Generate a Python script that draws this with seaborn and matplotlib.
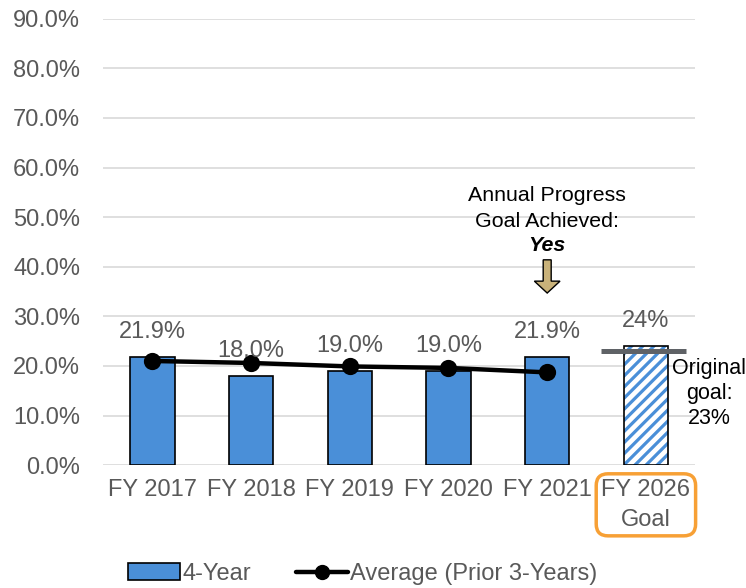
import matplotlib
matplotlib.use("Agg")
import matplotlib.pyplot as plt
import seaborn as sns
from matplotlib.patches import Patch, FancyArrow
from matplotlib.lines import Line2D
from matplotlib.ticker import FuncFormatter

years = ["FY 2017", "FY 2018", "FY 2019", "FY 2020", "FY 2021", "FY 2026\nGoal"]
four_year = [21.9, 18.0, 19.0, 19.0, 21.9, 24.0]
bar_labels = ["21.9%", "18.0%", "19.0%", "19.0%", "21.9%", "24%"]
avg_prior3 = [21.0, 20.6, 19.9, 19.6, 18.7]
original_goal = 23.0

blue = "#4A8FD8"
grey_txt = "#595959"
fs = 17

sns.set_theme(style="white")
plt.rcParams["font.family"] = ["Liberation Sans", "DejaVu Sans"]
plt.rcParams["hatch.linewidth"] = 2.3

fig = plt.figure(figsize=(7.46, 5.88), dpi=100)
ax = fig.add_axes([0.138, 0.209, 0.794, 0.759])

bw = 0.45
sns.barplot(x=years[:5], y=four_year[:5], color=blue, width=bw, saturation=1,
            edgecolor="black", linewidth=1.2, ax=ax, order=years, zorder=2)

# goal bar: white with blue stripes, black outline
ax.bar(5, four_year[5], width=bw, facecolor="white", edgecolor=blue, hatch="///",
       linewidth=0, zorder=2)
ax.bar(5, four_year[5], width=bw, facecolor="none", edgecolor="black",
       linewidth=1.2, zorder=3)

sns.pointplot(x=years[:5], y=avg_prior3, color="black", markers="o", order=years,
              linewidth=3.2, markersize=10, ax=ax, zorder=4)

# original goal marker line
ax.plot([4.55, 5.41], [original_goal, original_goal], color="#5F6266", lw=3.6,
        zorder=5, solid_capstyle="butt")

for i, (v, lab) in enumerate(zip(four_year, bar_labels)):
    ax.text(i, v + 5.0, lab, ha="center", va="center", fontsize=fs,
            color=grey_txt, zorder=6)

ax.text(5.64, 14.4, "Original\ngoal:\n23%", ha="center", va="center", fontsize=15.5,
        color="black", linespacing=1.25, clip_on=False)

ax.text(4.0, 54.3, "Annual Progress", ha="center", va="center", fontsize=15.4, color="black")
ax.text(4.0, 49.2, "Goal Achieved:", ha="center", va="center", fontsize=15.4, color="black")
ax.text(4.0, 44.2, "Yes", ha="center", va="center", fontsize=15.4, color="black",
        fontweight="bold", fontstyle="italic")
ax.add_patch(FancyArrow(4.0, 41.4, 0, -6.7, width=0.081, head_width=0.26,
                        head_length=2.4, length_includes_head=True,
                        facecolor="#C9B27A", edgecolor="black", linewidth=1, zorder=6))

ax.set_xlim(-0.5, 5.5)
ax.set_ylim(0, 90)
ax.set_yticks(range(0, 91, 10))
ax.yaxis.set_major_formatter(FuncFormatter(lambda v, p: f"{v:.1f}%"))
ax.grid(axis="y", color="#D9D9D9", linewidth=1.2, zorder=0)
ax.set_axisbelow(True)
for s in ax.spines.values():
    s.set_visible(False)
ax.tick_params(axis="both", length=0, labelsize=fs, labelcolor=grey_txt)
ax.tick_params(axis="y", pad=16.5)
ax.tick_params(axis="x", pad=10)
ax.set_xlabel("")
ax.set_ylabel("")

xt = ax.get_xticklabels()
xt[5].set_linespacing(1.45)
xt[5].set_bbox(dict(boxstyle="round,pad=0.22,rounding_size=0.5", facecolor="none",
                    edgecolor="#F7A035", linewidth=2.5))

handles = [Patch(facecolor=blue, edgecolor="black", linewidth=1.2, label="4-Year"),
           Line2D([0], [0], color="black", lw=3.2, marker="o", markersize=10,
                  label="Average (Prior 3-Years)")]
leg = fig.legend(handles=handles, loc="center", bbox_to_anchor=(0.486, 0.024), ncol=2,
                 frameon=False, fontsize=fs, handlelength=2.2, handletextpad=0.1,
                 columnspacing=1.9)
for t in leg.get_texts():
    t.set_color(grey_txt)

fig.savefig("out.png", dpi=100)
